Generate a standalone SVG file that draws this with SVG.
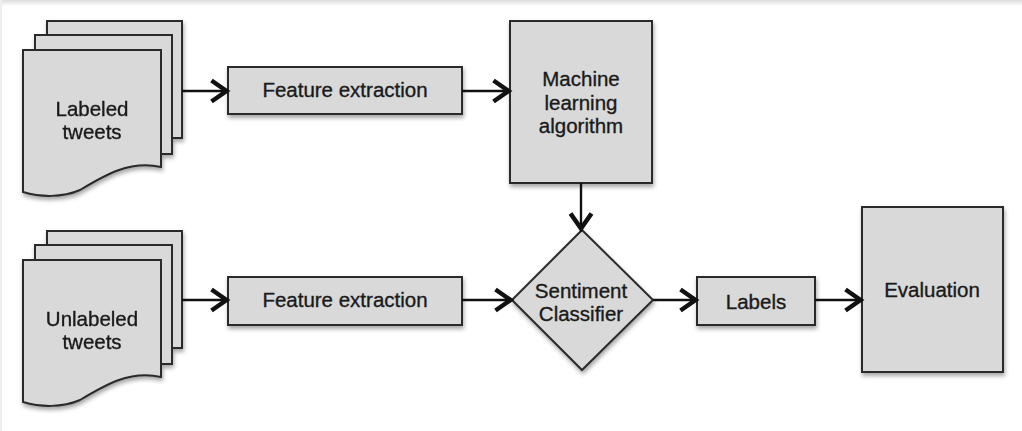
<svg xmlns="http://www.w3.org/2000/svg" width="1022" height="431" viewBox="0 0 1022 431">
  <defs>
    <filter id="shadow" x="-10%" y="-10%" width="125%" height="130%">
      <feDropShadow dx="1" dy="3" stdDeviation="2" flood-color="#000" flood-opacity="0.35"/>
    </filter>
    <linearGradient id="topband" x1="0" y1="0" x2="0" y2="1">
      <stop offset="0" stop-color="#dcdcdc"/>
      <stop offset="1" stop-color="#ffffff"/>
    </linearGradient>
    <marker id="chev" markerUnits="userSpaceOnUse" markerWidth="26" markerHeight="32" viewBox="-20 -15 26 30" refX="1.5" refY="0" orient="auto">
      <path d="M-15,-10.5 L0,0 L-15,10.5" fill="none" stroke="#111" stroke-width="4.5" stroke-linejoin="miter" stroke-linecap="butt"/>
    </marker>
    <style>
      .shape { fill: #d9d9d9; stroke: #2a2a2a; stroke-width: 2; filter: url(#shadow); }
      .page { fill: #d9d9d9; stroke: #2a2a2a; stroke-width: 2; }
      .lbl { font-family: "Liberation Sans", Arial, sans-serif; font-size: 20.5px; fill: #1a1a1a; stroke: #1a1a1a; stroke-width: 0.35; text-anchor: middle; }
      .conn { stroke: #111; stroke-width: 2.4; fill: none; marker-end: url(#chev); }
    </style>
  </defs>

  <rect x="0" y="0" width="1022" height="431" fill="#ffffff"/>
  <rect x="0" y="0" width="1022" height="6" fill="url(#topband)"/>
  <rect x="0" y="0" width="2" height="431" fill="#eeeeee"/>

  <g id="labeled-tweets" filter="url(#shadow)">
    <rect class="page" x="47" y="21" width="135" height="117"/>
    <rect class="page" x="35" y="35" width="137" height="119"/>
    <path class="page" d="M23,50 H161 V167 C130,160 105,175 80,190 C62,198 40,197 23,192 Z"/>
    <text class="lbl" x="92" y="116">Labeled</text>
    <text class="lbl" x="92" y="139">tweets</text>
  </g>

  <g id="unlabeled-tweets" filter="url(#shadow)">
    <rect class="page" x="47" y="231" width="135" height="117"/>
    <rect class="page" x="35" y="245" width="137" height="119"/>
    <path class="page" d="M23,260 H161 V377 C130,370 105,385 80,400 C62,408 40,407 23,402 Z"/>
    <text class="lbl" x="92" y="326">Unlabeled</text>
    <text class="lbl" x="92" y="349">tweets</text>
  </g>

  <g id="feature-extraction-1">
    <rect class="shape" x="228" y="67" width="234" height="47"/>
    <text class="lbl" x="345" y="97">Feature extraction</text>
  </g>

  <g id="feature-extraction-2">
    <rect class="shape" x="228" y="277" width="234" height="48"/>
    <text class="lbl" x="345" y="307">Feature extraction</text>
  </g>

  <g id="ml-algorithm">
    <rect class="shape" x="510" y="21" width="142" height="162"/>
    <text class="lbl" x="581" y="86">Machine</text>
    <text class="lbl" x="581" y="110">learning</text>
    <text class="lbl" x="581" y="133">algorithm</text>
  </g>

  <g id="sentiment-classifier">
    <path class="shape" d="M582,230 L653,300 L582,370 L512,300 Z"/>
    <text class="lbl" x="581" y="298">Sentiment</text>
    <text class="lbl" x="581" y="321">Classifier</text>
  </g>

  <g id="labels">
    <rect class="shape" x="697" y="277" width="118" height="48"/>
    <text class="lbl" x="756" y="309">Labels</text>
  </g>

  <g id="evaluation">
    <rect class="shape" x="862" y="207" width="141" height="165"/>
    <text class="lbl" x="932" y="297">Evaluation</text>
  </g>

  <g id="connectors">
    <line class="conn" x1="182" y1="91" x2="228" y2="91"/>
    <line class="conn" x1="462" y1="91" x2="510" y2="91"/>
    <line class="conn" x1="581" y1="183" x2="581" y2="230"/>
    <line class="conn" x1="182" y1="300" x2="228" y2="300"/>
    <line class="conn" x1="462" y1="300" x2="512" y2="300"/>
    <line class="conn" x1="653" y1="300" x2="697" y2="300"/>
    <line class="conn" x1="815" y1="300" x2="862" y2="300"/>
  </g>
</svg>
